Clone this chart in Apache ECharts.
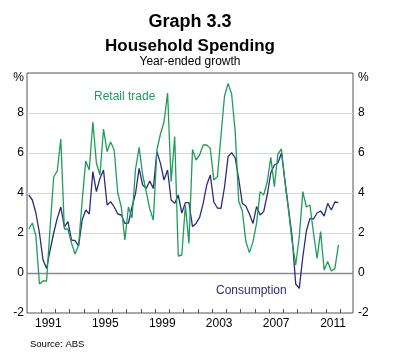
<!DOCTYPE html>
<html>
<head>
<meta charset="utf-8">
<script src="https://cdn.jsdelivr.net/npm/echarts@6/dist/echarts.min.js"></script>
<style>
html,body{margin:0;padding:0;background:#fff;}
#c{width:395px;height:363px;}
</style>
</head>
<body>
<div id="c"></div>
<script>
// Quarterly data, March quarter 1990 to December quarter 2011
var firstYear = 1990;
var retailTrade = [
  2.2, 2.5, 1.85, -0.55, -0.4, -0.4, 2.3, 4.8, 5.1, 6.7,
  2.2, 2.2, 1.5, 0.95, 1.4, 3.6, 5.6, 5.15, 7.55, 5.5,
  4.9, 7.2, 6.07, 6.55, 6.15, 4.0, 3.3, 1.65, 3.3, 2.75,
  5.2, 6.28, 4.9, 4.07, 3.2, 2.65, 6.15, 6.95, 7.55, 9.0,
  4.57, 6.82, 0.85, 0.9, 3.4, 1.48, 6.18, 5.65, 5.9, 6.4,
  6.4, 6.23, 4.65, 4.82, 6.85, 8.85, 9.48, 8.95, 7.07, 3.57,
  3.1, 1.57, 1.02, 1.57, 2.48, 4.07, 3.9, 4.55, 5.78, 4.32,
  5.95, 6.2, 4.5, 3.1, 1.55, 0.4, 1.8, 4.07, 3.3, 3.4,
  2.0, 0.73, 2.07, 0.15, 0.57, 0.1, 0.22, 1.4
];
var consumption = [
  3.9, 3.65, 3.0, 2.0, 0.65, 0.23, 1.15, 2.0, 2.73, 3.3,
  2.3, 2.57, 1.65, 1.62, 1.35, 2.65, 3.15, 2.95, 5.07, 4.07,
  4.73, 5.15, 3.4, 3.57, 3.3, 2.95, 2.9, 2.48, 2.5, 3.3,
  3.98, 5.23, 4.4, 4.23, 4.6, 4.23, 6.07, 5.48, 4.65, 5.15,
  3.65, 3.48, 3.9, 3.0, 3.52, 3.52, 2.32, 2.48, 2.78, 3.48,
  4.4, 4.9, 3.55, 3.25, 3.23, 4.3, 5.82, 6.02, 5.75, 4.7,
  3.48, 3.35, 2.95, 2.48, 3.32, 2.9, 3.07, 3.9, 5.0, 5.4,
  5.5, 6.0, 4.6, 3.2, 1.8, -0.55, -0.77, 0.8, 2.1, 2.73,
  2.7, 3.0, 3.1, 2.85, 3.48, 3.15, 3.55, 3.52
];
var yearTicks = [1991,1992,1993,1994,1995,1996,1997,1998,1999,2000,2001,2002,2003,2004,2005,2006,2007,2008,2009,2010,2011,2012];
var yearLabels = [1991, 1995, 1999, 2003, 2007, 2011];

// quarter mid-points as decimal years
var quarters = [];
for (var k = 0; k < retailTrade.length; k++) {
  quarters.push(firstYear + 0.125 + 0.25 * k);
}
function pairs(vals) {
  return vals.map(function (v, i) { return [quarters[i], v]; });
}

var chart = echarts.init(document.getElementById('c'), null, {renderer: 'canvas'});
var FONT = '"Liberation Sans", Arial, sans-serif';
var yLabel = {
  fontFamily: FONT, fontSize: 12, color: '#000',
  formatter: function (v) { return v === 10 ? '{p|%}' : String(v); },
  rich: { p: { fontFamily: FONT, fontSize: 12, color: '#000', padding: [10, 0, 0, 0] } }
};
chart.setOption({
  animation: false,
  backgroundColor: '#fff',
  grid: {
    left: 27, right: 42, top: 73, bottom: 50,
    show: true, borderColor: '#555', borderWidth: 1, backgroundColor: 'transparent'
  },
  xAxis: {
    type: 'value', min: 1990, max: 2012.9,
    axisLine: { show: false, onZero: false },
    splitLine: { show: false },
    axisTick: { show: true, inside: true, length: 4, customValues: yearTicks,
                lineStyle: { color: '#555', width: 1 } },
    axisLabel: { show: true, customValues: yearLabels.map(function (y) { return y + 0.5; }),
                 formatter: function (v) { return String(Math.floor(v)); },
                 fontFamily: FONT, fontSize: 12, color: '#000', margin: 5 }
  },
  yAxis: [
    {
      type: 'value', min: -2, max: 10, interval: 2, position: 'left',
      axisLine: { show: false }, axisTick: { show: false },
      splitLine: { show: true, showMinLine: false, showMaxLine: false,
                   lineStyle: { color: '#d4d4d4', width: 1.2 } },
      axisLabel: Object.assign({ margin: 3 }, yLabel)
    },
    {
      type: 'value', min: -2, max: 10, interval: 2, position: 'right',
      axisLine: { show: false }, axisTick: { show: false },
      splitLine: { show: false },
      axisLabel: Object.assign({ margin: 5 }, yLabel)
    }
  ],
  series: [
    {
      name: 'Consumption', type: 'line', data: pairs(consumption),
      showSymbol: false, symbol: 'none', z: 3,
      lineStyle: { color: '#2b2b7c', width: 1.3 },
      markLine: {
        silent: true, symbol: 'none', label: { show: false },
        lineStyle: { color: '#8a8a8a', width: 1.3, type: 'solid' },
        data: [{ yAxis: 0 }], z: 1
      }
    },
    {
      name: 'Retail trade', type: 'line', data: pairs(retailTrade),
      showSymbol: false, symbol: 'none', z: 4,
      lineStyle: { color: '#1f9c58', width: 1.3 }
    }
  ],
  graphic: [
    { type: 'text', x: 190, y: 22, style: { text: 'Graph 3.3', font: 'bold 18px ' + FONT, fill: '#000', align: 'center', verticalAlign: 'middle' } },
    { type: 'text', x: 190, y: 46, style: { text: 'Household Spending', font: 'bold 17px ' + FONT, fill: '#000', align: 'center', verticalAlign: 'middle' } },
    { type: 'text', x: 190, y: 62, style: { text: 'Year-ended growth', font: '12px ' + FONT, fill: '#000', align: 'center', verticalAlign: 'middle' } },
    { type: 'text', x: 94, y: 97, style: { text: 'Retail trade', font: '12px ' + FONT, fill: '#1f9c58', align: 'left', verticalAlign: 'middle' } },
    { type: 'text', x: 216, y: 291, style: { text: 'Consumption', font: '12px ' + FONT, fill: '#2b2b7c', align: 'left', verticalAlign: 'middle' } },
    { type: 'text', x: 30, y: 344, style: { text: 'Source: ABS', font: '9.5px ' + FONT, fill: '#000', align: 'left', verticalAlign: 'middle' } }
  ]
});
</script>
</body>
</html>
